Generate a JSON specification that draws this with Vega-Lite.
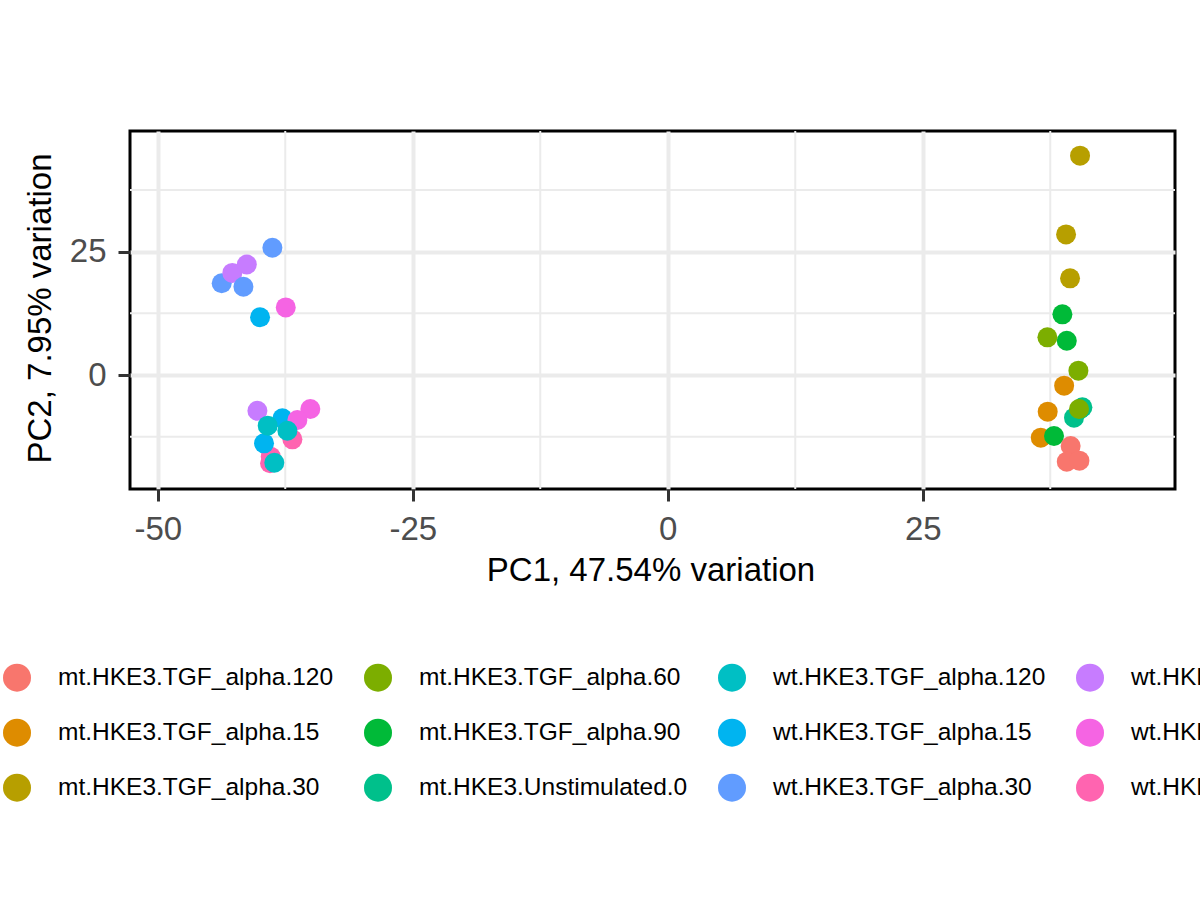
{
  "$schema": "https://vega.github.io/schema/vega-lite/v6.json",
  "width": 1045,
  "height": 358,
  "autosize": {"type": "none"},
  "padding": {"left": 130, "top": 131, "right": 25, "bottom": 411},
  "background": "white",
  "config": {
    "font": "Liberation Sans",
    "view": {"stroke": "black", "strokeWidth": 3},
    "axis": {
      "domain": false,
      "tickColor": "#333333",
      "tickWidth": 3,
      "tickSize": 12,
      "labelFont": "Liberation Sans",
      "labelFontSize": 33,
      "labelColor": "#4D4D4D",
      "labelPadding": 12,
      "labelFlush": false,
      "labelOverlap": false,
      "labelExpr": "datum.value + ''",
      "titleFont": "Liberation Sans",
      "titleFontSize": 33,
      "titleFontWeight": "normal",
      "titleColor": "black",
      "gridColor": "#EBEBEB",
      "gridWidth": 4
    }
  },
  "layer": [
    {
      "data": {"values": [{"PC1": -37.5}, {"PC1": -12.5}, {"PC1": 12.5}, {"PC1": 37.5}]},
      "mark": {"type": "rule", "color": "#EBEBEB", "strokeWidth": 2},
      "encoding": {
        "x": {
          "field": "PC1", "type": "quantitative",
          "scale": {"domain": [-52.72, 49.73], "nice": false, "zero": false},
          "axis": {"values": [-50, -25, 0, 25], "title": "PC1, 47.54% variation", "titleBaseline": "alphabetic", "titleX": 520.5, "titleY": 91}
        }
      }
    },
    {
      "data": {"values": [{"PC2": -12.5}, {"PC2": 12.5}, {"PC2": 37.5}]},
      "mark": {"type": "rule", "color": "#EBEBEB", "strokeWidth": 2},
      "encoding": {
        "y": {
          "field": "PC2", "type": "quantitative",
          "scale": {"domain": [-23.11, 49.47], "nice": false, "zero": false},
          "axis": {"values": [0, 25], "title": "PC2, 7.95% variation", "titleBaseline": "alphabetic", "titleAngle": 270, "titleX": -80, "titleY": 177}
        }
      }
    },
    {
      "data": {
        "values": [
          {"group": "mt.HKE3.Unstimulated.0", "PC1": 40.65, "PC2": -6.56},
          {"group": "mt.HKE3.Unstimulated.0", "PC1": 40.4, "PC2": -7.0},
          {"group": "mt.HKE3.Unstimulated.0", "PC1": 39.83, "PC2": -8.65},
          {"group": "mt.HKE3.TGF_alpha.15", "PC1": 38.86, "PC2": -2.16},
          {"group": "mt.HKE3.TGF_alpha.15", "PC1": 37.25, "PC2": -7.43},
          {"group": "mt.HKE3.TGF_alpha.15", "PC1": 36.57, "PC2": -12.7},
          {"group": "mt.HKE3.TGF_alpha.90", "PC1": 38.69, "PC2": 12.3},
          {"group": "mt.HKE3.TGF_alpha.90", "PC1": 39.12, "PC2": 6.95},
          {"group": "mt.HKE3.TGF_alpha.90", "PC1": 37.87, "PC2": -12.37},
          {"group": "mt.HKE3.TGF_alpha.60", "PC1": 37.22, "PC2": 7.64},
          {"group": "mt.HKE3.TGF_alpha.60", "PC1": 40.26, "PC2": 0.88},
          {"group": "mt.HKE3.TGF_alpha.60", "PC1": 40.32, "PC2": -6.9},
          {"group": "mt.HKE3.TGF_alpha.30", "PC1": 40.42, "PC2": 44.47},
          {"group": "mt.HKE3.TGF_alpha.30", "PC1": 39.05, "PC2": 28.5},
          {"group": "mt.HKE3.TGF_alpha.30", "PC1": 39.44, "PC2": 19.6},
          {"group": "mt.HKE3.TGF_alpha.120", "PC1": 39.5, "PC2": -14.4},
          {"group": "mt.HKE3.TGF_alpha.120", "PC1": 39.12, "PC2": -17.57},
          {"group": "mt.HKE3.TGF_alpha.120", "PC1": 40.36, "PC2": -17.37},
          {"group": "wt.HKE3.Unstimulated.0", "PC1": -36.8, "PC2": -13.04},
          {"group": "wt.HKE3.Unstimulated.0", "PC1": -38.92, "PC2": -16.56},
          {"group": "wt.HKE3.Unstimulated.0", "PC1": -38.99, "PC2": -17.9},
          {"group": "wt.HKE3.TGF_alpha.15", "PC1": -39.97, "PC2": 11.7},
          {"group": "wt.HKE3.TGF_alpha.15", "PC1": -37.78, "PC2": -8.78},
          {"group": "wt.HKE3.TGF_alpha.15", "PC1": -39.58, "PC2": -13.85},
          {"group": "wt.HKE3.TGF_alpha.90", "PC1": -37.45, "PC2": 13.7},
          {"group": "wt.HKE3.TGF_alpha.90", "PC1": -35.04, "PC2": -6.9},
          {"group": "wt.HKE3.TGF_alpha.90", "PC1": -36.31, "PC2": -9.12},
          {"group": "wt.HKE3.TGF_alpha.30", "PC1": -43.73, "PC2": 18.6},
          {"group": "wt.HKE3.TGF_alpha.60", "PC1": -42.69, "PC2": 20.7},
          {"group": "wt.HKE3.TGF_alpha.30", "PC1": -41.6, "PC2": 17.9},
          {"group": "wt.HKE3.TGF_alpha.60", "PC1": -41.27, "PC2": 22.4},
          {"group": "wt.HKE3.TGF_alpha.30", "PC1": -38.76, "PC2": 25.8},
          {"group": "wt.HKE3.TGF_alpha.60", "PC1": -40.23, "PC2": -7.24},
          {"group": "wt.HKE3.TGF_alpha.120", "PC1": -39.22, "PC2": -10.27},
          {"group": "wt.HKE3.TGF_alpha.120", "PC1": -37.29, "PC2": -11.29},
          {"group": "wt.HKE3.TGF_alpha.120", "PC1": -38.57, "PC2": -17.78}
        ]
      },
      "mark": {"type": "circle", "size": 400, "opacity": 1},
      "encoding": {
        "x": {
          "field": "PC1", "type": "quantitative",
          "scale": {"domain": [-52.72, 49.73], "nice": false, "zero": false},
          "axis": {"values": [-50, -25, 0, 25], "title": "PC1, 47.54% variation", "titleBaseline": "alphabetic", "titleX": 520.5, "titleY": 91}
        },
        "y": {
          "field": "PC2", "type": "quantitative",
          "scale": {"domain": [-23.11, 49.47], "nice": false, "zero": false},
          "axis": {"values": [0, 25], "title": "PC2, 7.95% variation", "titleBaseline": "alphabetic", "titleAngle": 270, "titleX": -80, "titleY": 177}
        },
        "color": {
          "field": "group", "type": "nominal",
          "scale": {
            "domain": [
              "mt.HKE3.TGF_alpha.120", "mt.HKE3.TGF_alpha.15", "mt.HKE3.TGF_alpha.30",
              "mt.HKE3.TGF_alpha.60", "mt.HKE3.TGF_alpha.90", "mt.HKE3.Unstimulated.0",
              "wt.HKE3.TGF_alpha.120", "wt.HKE3.TGF_alpha.15", "wt.HKE3.TGF_alpha.30",
              "wt.HKE3.TGF_alpha.60", "wt.HKE3.TGF_alpha.90", "wt.HKE3.Unstimulated.0"
            ],
            "range": [
              "#F8766D", "#DE8C00", "#B79F00",
              "#7CAE00", "#00BA38", "#00C08B",
              "#00BFC4", "#00B4F0", "#619CFF",
              "#C77CFF", "#F564E3", "#FF64B0"
            ]
          },
          "legend": {
            "orient": "none",
            "legendX": -127,
            "legendY": 532.7,
            "columns": 4,
            "title": null,
            "padding": 0,
            "labelFont": "Liberation Sans",
            "labelFontSize": 24.5,
            "labelColor": "black",
            "labelLimit": 500,
            "symbolType": "circle",
            "symbolSize": 784,
            "symbolStrokeWidth": 0,
            "labelOffset": 27,
            "columnPadding": 30,
            "rowPadding": 27
          }
        }
      }
    }
  ]
}
